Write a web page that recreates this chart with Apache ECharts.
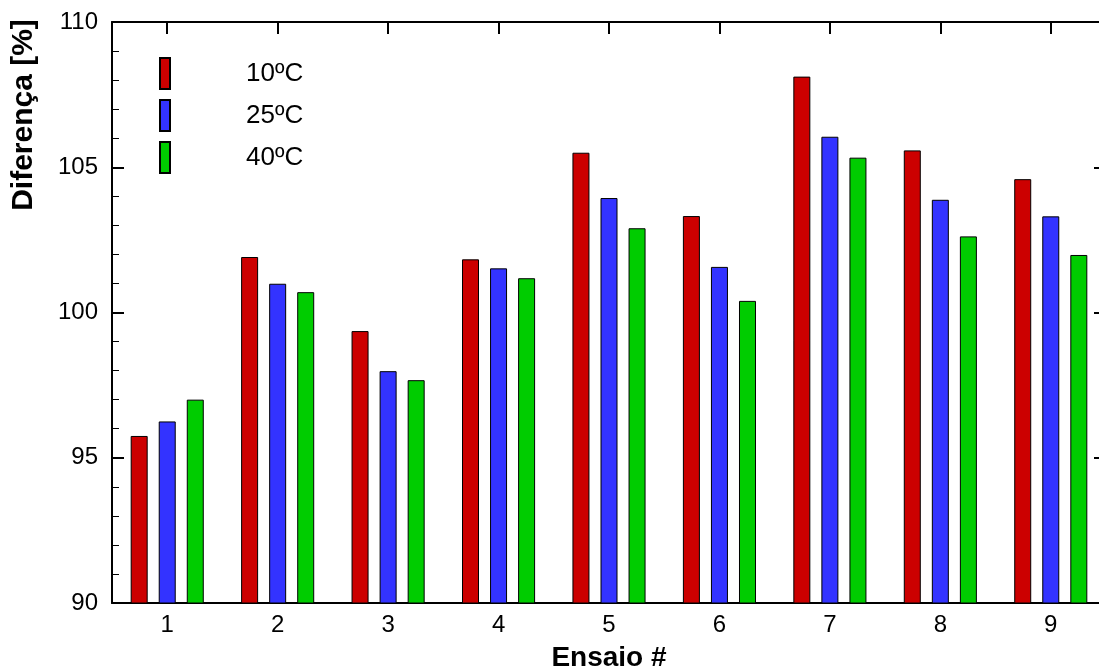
<!DOCTYPE html>
<html>
<head>
<meta charset="utf-8">
<title>Diferença por ensaio</title>
<script src="https://cdn.jsdelivr.net/npm/echarts@6/dist/echarts.min.js"></script>
<style>
  html, body { margin: 0; padding: 0; background: #fff; }
  #chartBar { width: 1099px; height: 670px; }
</style>
</head>
<body>
<div id="chartBar"></div>
<script>
// dados
var ensaios = ['1', '2', '3', '4', '5', '6', '7', '8', '9'];
var serieNames = ['10ºC', '25ºC', '40ºC'];
var dados10 = [95.75, 101.91, 99.36, 101.83, 105.50, 103.32, 108.12, 105.58, 104.59];
var dados25 = [96.25, 100.99, 97.98, 101.52, 103.94, 101.57, 106.05, 103.88, 103.31];
var dados40 = [97.00, 100.70, 97.67, 101.18, 102.90, 100.40, 105.33, 102.62, 101.98];
var cores = ['#cc0000', '#3333ff', '#00cc00'];

var fonte = '"Liberation Sans", Arial, sans-serif';

function eixoX(pos, showLabel) {
	return {
		type: 'category',
		position: pos,
		data: ensaios,
		axisLine: { show: true, lineStyle: { color: '#000', width: 2 } },
		axisTick: { show: true, inside: true, alignWithLabel: true, length: 12, lineStyle: { color: '#000', width: 2 } },
		axisLabel: { show: showLabel, color: '#000', fontSize: 24, fontFamily: fonte, margin: 10 },
		splitLine: { show: false }
	};
}

function eixoY(pos, showLabel) {
	return {
		type: 'value',
		position: pos,
		min: 90,
		max: 110,
		interval: 5,
		axisLine: { show: true, lineStyle: { color: '#000', width: 2 } },
		axisTick: { show: true, inside: true, length: 12, lineStyle: { color: '#000', width: 2 } },
		minorTick: { show: true, splitNumber: 5, length: 7, lineStyle: { color: '#000', width: 1 } },
		axisLabel: { show: showLabel, color: '#000', fontSize: 24, fontFamily: fonte, margin: 14 },
		splitLine: { show: false }
	};
}

function serie(nome, dados, cor) {
	return {
		name: nome,
		type: 'bar',
		data: dados,
		barWidth: 17,
		barGap: '65%',
		itemStyle: { color: cor, borderColor: '#000', borderWidth: 1 }
	};
}

function echartsBar() {
	var xTop = eixoX('top', false);
	var yRight = eixoY('right', false);
	var xBottom = eixoX('bottom', true);
	xBottom.name = 'Ensaio #';
	xBottom.nameLocation = 'middle';
	xBottom.nameGap = 41;
	xBottom.nameTextStyle = { color: '#000', fontSize: 28, fontWeight: 'bold', fontFamily: fonte };

	var option = {
		animation: false,
		backgroundColor: '#fff',
		// a moldura passa um pouco da borda direita, como no original
		grid: { left: 112, top: 22, width: 994, height: 581, outerBoundsMode: 'none', containLabel: false },
		legend: {
			orient: 'vertical',
			left: 154,
			top: 52,
			itemWidth: 10,
			itemHeight: 31,
			itemGap: 9,
			icon: 'rect',
			data: serieNames,
			textStyle: { color: '#000', fontSize: 26, fontFamily: fonte, padding: [0, 0, 0, 71] }
		},
		xAxis: [xBottom, xTop],
		yAxis: [eixoY('left', true), yRight],
		graphic: [{
			type: 'text',
			x: 24,
			y: 115,
			rotation: Math.PI / 2,
			style: {
				text: 'Diferença [%]',
				fill: '#000',
				font: 'bold 30px ' + fonte,
				textAlign: 'center',
				textVerticalAlign: 'middle'
			}
		}],
		series: [
			serie(serieNames[0], dados10, cores[0]),
			serie(serieNames[1], dados25, cores[1]),
			serie(serieNames[2], dados40, cores[2])
		]
	};

	var chart = echarts.init(document.getElementById('chartBar'));
	chart.setOption(option);
}

echartsBar();
</script>
</body>
</html>
